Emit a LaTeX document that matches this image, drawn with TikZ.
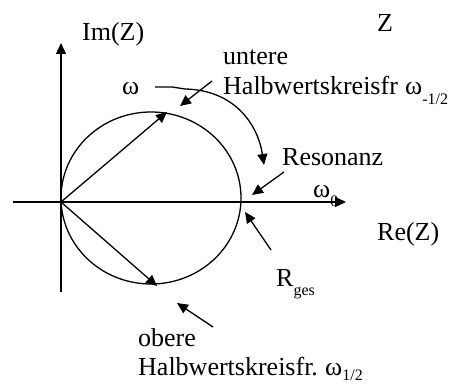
\documentclass[tikz,border=0pt]{standalone}
\usepackage{fontspec}
\setmainfont{Liberation Serif}
\usetikzlibrary{arrows.meta}
\newcommand{\subt}[2][-0.35em]{\raisebox{#1}{\fontsize{16}{16}\selectfont #2}}
\tikzset{
  line/.style={line width=1.3pt},
  arr/.style={line width=1.3pt,-{Triangle[length=11pt,width=10pt]}},
  lbl/.style={anchor=base west,inner sep=0pt,font=\fontsize{26}{30}\selectfont},
}
\begin{document}
\begin{tikzpicture}[x=1pt,y=-1pt]
\useasboundingbox (0,0) rectangle (463,385);
% axes
\coordinate (O) at (61,202);
\coordinate (xs) at (13,202);
\coordinate (xe) at (346,202);
\coordinate (ys) at (61,292);
\coordinate (ye) at (61,43);
\draw[arr] (xs) -- (xe);
\draw[arr] (ys) -- (ye);
% circle
\draw[line] (151,198) ellipse [x radius=90, y radius=86];
% phasors
\coordinate (pu) at (167,112);
\coordinate (pl) at (157,286);
\draw[arr] (O) -- (pu);
\draw[arr] (O) -- (pl);
% labels
\node[lbl] (im) at (82,41) {Im(Z)};
\node[lbl] (z) at (377,32) {Z};
\node[lbl] (unt) at (223,65) {untere};
\node[lbl] (hu) at (223,95) {Halbwertskreisfr};
\node[lbl] (wm) at (405,95) {ω\subt{-1/2}};
\node[lbl] (w) at (122,95) {ω};
\node[lbl] (res) at (282,165) {Resonanz};
\node[lbl] (w0) at (313,197) {ω\subt{0}};
\node[lbl] (re) at (377,240) {Re(Z)};
\node[lbl] (rg) at (276,286) {R\subt{ges}};
\node[lbl] (ob) at (138,346) {obere};
\node[lbl] (ho) at (138,375) {Halbwertskreisfr.};
\node[lbl] (wp) at (325,375) {ω\subt[-0.2em]{1/2}};
% pointer arrows
\coordinate (a1s) at (212,81);  \coordinate (a1e) at (180,106);
\coordinate (a2s) at (284,172); \coordinate (a2e) at (252,195);
\coordinate (a3s) at (271,250); \coordinate (a3e) at (245,212);
\coordinate (a4s) at (213,327); \coordinate (a4e) at (177,303);
\draw[arr] (a1s) -- (a1e);
\draw[arr] (a2s) -- (a2e);
\draw[arr] (a3s) -- (a3e);
\draw[arr] (a4s) -- (a4e);
% frequency direction arrow
\coordinate (ws) at (155,87);
\coordinate (we) at (264,165);
\draw[arr] (ws) -- (172,87) -- (185,89) .. controls (235,90) and (258,125) .. (we);
\end{tikzpicture}
\end{document}
